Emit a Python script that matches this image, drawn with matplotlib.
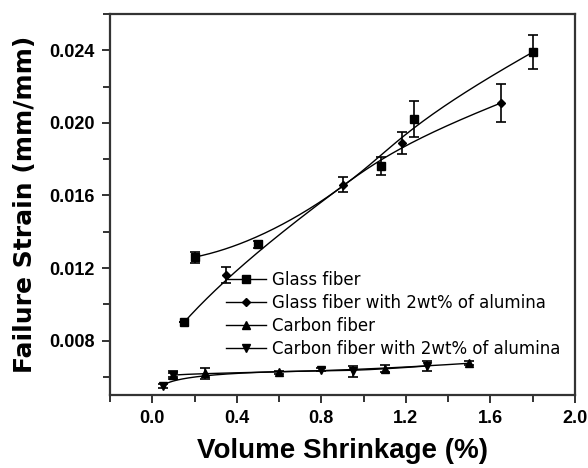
import numpy as np
import matplotlib
matplotlib.use('Agg')
import matplotlib.pyplot as plt
from matplotlib.lines import Line2D

# --- dati ---
gf_x = [0.20, 0.50, 1.08, 1.24, 1.80]
gf_y = [0.0126, 0.0133, 0.0176, 0.0202, 0.0239]
gf_err = [0.0003, 0.0002, 0.0005, 0.0010, 0.00095]

gfa_x = [0.15, 0.35, 0.90, 1.18, 1.65]
gfa_y = [0.0090, 0.0116, 0.0166, 0.0189, 0.0211]
gfa_err = [0.0, 0.00045, 0.00043, 0.0006, 0.00107]

cf_x = [0.10, 0.25, 0.60, 1.10, 1.50]
cf_y = [0.0061, 0.0062, 0.00625, 0.00645, 0.00675]
cf_err = [0.0001, 0.0003, 0.0001, 0.0002, 0.0001]

cfa_x = [0.05, 0.10, 0.80, 0.95, 1.30]
cfa_y = [0.0055, 0.0061, 0.0064, 0.0063, 0.0066]
cfa_err = [0.0001, 0.0002, 0.0001, 0.0003, 0.0003]

labels = ['Glass fiber', 'Glass fiber with 2wt% of alumina',
          'Carbon fiber', 'Carbon fiber with 2wt% of alumina']


def bspline(xs, ys, n=200):
  # B-spline con i punti come punti di controllo (come "B-Spline" di Origin)
  P = np.column_stack([xs, ys])
  k = min(3, len(P) - 1)
  m = len(P)
  t = np.concatenate([np.zeros(k), np.linspace(0, 1, m - k + 1), np.ones(k)])
  u = np.linspace(0, 1, n)
  out = []
  for uu in u:
    if uu >= 1:
      out.append(P[-1]); continue
    j = np.searchsorted(t, uu, side='right') - 1
    d = [P[j - k + i].copy() for i in range(k + 1)]
    for r in range(1, k + 1):
      for i in range(k, r - 1, -1):
        idx = i + j - k
        a = (uu - t[idx]) / (t[idx + k + 1 - r] - t[idx])
        d[i] = (1 - a) * d[i - 1] + a * d[i]
    out.append(d[k])
  out = np.array(out)
  return out[:, 0], out[:, 1]


plt.rc('font', family='Liberation Sans')
fig = plt.figure(figsize=(5.88, 4.68), dpi=100)
ax = fig.add_axes([0.187, 0.156, 0.791, 0.814])

serie = [
  (gf_x, gf_y, gf_err, 's', 5.5),
  (gfa_x, gfa_y, gfa_err, 'D', 4.5),
  (cf_x, cf_y, cf_err, '^', 6),
  (cfa_x, cfa_y, cfa_err, 'v', 6),
]
handles = []
for i, (x, y, e, m, ms) in enumerate(serie):
  sx, sy = bspline(x, y)
  ax.plot(sx, sy, color='black', lw=1.0)
  ax.errorbar(x, y, yerr=e, fmt='none', ecolor='black', elinewidth=1.2,
              capsize=3.5, capthick=1.2)
  if i == 1:
    # il primo punto appare con marker quadrato
    ax.plot(x[1:], y[1:], m, color='black', ms=ms)
    ax.plot(x[:1], y[:1], 's', color='black', ms=5.5)
  else:
    ax.plot(x, y, m, color='black', ms=ms)
  handles.append(Line2D([], [], color='black', lw=1.0, marker=m, ms=ms))

ax.set_xlim(-0.2, 2.0)
ax.set_ylim(0.005, 0.026)
ax.set_xticks([0.0, 0.4, 0.8, 1.2, 1.6, 2.0])
ax.set_xticks(np.arange(-0.2, 2.01, 0.2), minor=True)
ax.set_yticks([0.008, 0.012, 0.016, 0.020, 0.024])
ax.set_yticks([0.006, 0.010, 0.014, 0.018, 0.022, 0.026], minor=True)
ax.set_xticklabels(['0.0', '0.4', '0.8', '1.2', '1.6', '2.0'], fontweight='bold')
ax.set_yticklabels(['0.008', '0.012', '0.016', '0.020', '0.024'], fontweight='bold')
ax.tick_params(which='both', direction='out', labelsize=13, width=1.3, color='#222222')
ax.tick_params(which='major', length=6, pad=5)
ax.tick_params(which='minor', length=5)
for s in ax.spines.values():
  s.set_linewidth(1.6)
  s.set_color('#333333')

ax.set_xlabel('Volume Shrinkage (%)', fontsize=20, fontweight='bold', labelpad=8)
ax.set_ylabel('Failure Strain (mm/mm)', fontsize=18, fontweight='bold',
              family='DejaVu Sans', labelpad=9)

ax.legend(handles, labels, loc='upper left', bbox_to_anchor=(0.232, 0.347),
          frameon=False, prop={'family': 'DejaVu Sans', 'size': 12},
          handlelength=2.4, labelspacing=0.3, borderpad=0, handletextpad=0.35)

fig.savefig('out.png', dpi=100)
